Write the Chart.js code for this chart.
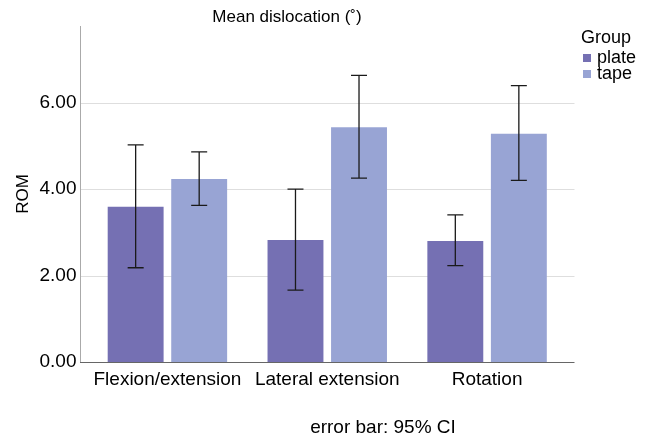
<!DOCTYPE html>
<html>
<head>
<meta charset="utf-8">
<script src="https://cdn.jsdelivr.net/npm/chart.js@4/dist/chart.umd.min.js"></script>
<style>
  html, body { margin: 0; padding: 0; background: #fff; }
  #wrap { width: 654px; height: 439px; }
</style>
</head>
<body>
<div id="wrap"><canvas id="chart"></canvas></div>
<script>
// data
const categories = ['Flexion/extension', 'Lateral extension', 'Rotation'];
const groups = ['plate', 'tape'];
const plateMean = [3.59, 2.82, 2.80];
const plateLow = [2.18, 1.66, 2.23];
const plateHigh = [5.02, 4.00, 3.40];
const tapeMean = [4.23, 5.43, 5.28];
const tapeLow = [3.62, 4.25, 4.20];
const tapeHigh = [4.86, 6.63, 6.39];
const yTicks = [0, 2, 4, 6];

const colors = ['#7570b3', '#98a4d4'];
const font = 'Liberation Sans, Arial, sans-serif';

// axis frame + gridlines, a bit wider than the category area
const frame = {
  id: 'frame',
  beforeDatasetsDraw(chart) {
    const ctx = chart.ctx;
    const a = chart.chartArea;
    const y = chart.scales.y;
    const x0 = a.left - 7.5, x1 = a.right + 7.5;
    ctx.save();
    ctx.lineWidth = 1;
    ctx.strokeStyle = '#dedede';
    yTicks.forEach(v => {
      if (v === 0) return;
      const py = Math.round(y.getPixelForValue(v)) + 0.5;
      ctx.beginPath(); ctx.moveTo(x0, py); ctx.lineTo(x1, py); ctx.stroke();
    });
    ctx.strokeStyle = '#aaa';
    ctx.beginPath(); ctx.moveTo(x0 + 0.5, a.top); ctx.lineTo(x0 + 0.5, a.bottom); ctx.stroke();
    ctx.strokeStyle = '#666';
    const by = Math.round(a.bottom) + 0.5;
    ctx.beginPath(); ctx.moveTo(x0, by); ctx.lineTo(x1, by); ctx.stroke();
    ctx.restore();
  }
};

// error bars (95% CI)
const errorBars = {
  id: 'errorBars',
  afterDatasetsDraw(chart) {
    const ctx = chart.ctx;
    const y = chart.scales.y;
    ctx.save();
    ctx.strokeStyle = '#1a1a1a';
    ctx.lineWidth = 1.3;
    chart.data.datasets.forEach((ds, i) => {
      const meta = chart.getDatasetMeta(i);
      meta.data.forEach((bar, j) => {
        const top = y.getPixelForValue(ds.high[j]);
        const bot = y.getPixelForValue(ds.low[j]);
        ctx.beginPath();
        ctx.moveTo(bar.x, top); ctx.lineTo(bar.x, bot);
        ctx.moveTo(bar.x - 8, top); ctx.lineTo(bar.x + 8, top);
        ctx.moveTo(bar.x - 8, bot); ctx.lineTo(bar.x + 8, bot);
        ctx.stroke();
      });
    });
    ctx.restore();
  }
};

// title, legend, footnote
const texts = {
  id: 'texts',
  afterDraw(chart) {
    const ctx = chart.ctx;
    ctx.save();
    ctx.fillStyle = '#000';
    ctx.textBaseline = 'middle';
    ctx.font = '17px ' + font;
    ctx.textAlign = 'center';
    ctx.fillText('Mean dislocation (\u02da)', 287, 17);
    ctx.font = '19px ' + font;
    ctx.fillText('error bar: 95% CI', 383, 428);

    ctx.textAlign = 'left';
    ctx.font = '18px ' + font;
    ctx.fillText('Group', 581, 38);
    groups.forEach((g, i) => {
      const cy = 58 + i * 16;
      ctx.fillStyle = colors[i];
      ctx.fillRect(583, cy - 4, 8, 8);
      ctx.fillStyle = '#000';
      ctx.fillText(g, 597, cy);
    });
    ctx.restore();
  }
};

new Chart(document.getElementById('chart'), {
  type: 'bar',
  data: {
    labels: categories,
    datasets: [
      { label: groups[0], data: plateMean, low: plateLow, high: plateHigh, backgroundColor: colors[0] },
      { label: groups[1], data: tapeMean, low: tapeLow, high: tapeHigh, backgroundColor: colors[1] }
    ]
  },
  options: {
    responsive: true,
    maintainAspectRatio: false,
    animation: false,
    layout: { padding: { left: 8, right: 87, top: 26, bottom: 0 } },
    datasets: { bar: { categoryPercentage: 0.795, barPercentage: 0.88 } },
    plugins: {
      legend: { display: false },
      tooltip: { enabled: false }
    },
    scales: {
      x: {
        grid: { display: false, drawTicks: false },
        border: { display: false },
        ticks: { color: '#000', padding: 6, font: { family: font, size: 19 }, maxRotation: 0, autoSkip: false },
        afterFit(scale) { scale.height = 77; }
      },
      y: {
        min: 0,
        max: 7.77,
        afterBuildTicks(scale) { scale.ticks = yTicks.map(v => ({ value: v })); },
        grid: { display: false, drawTicks: false },
        border: { display: false },
        ticks: { color: '#000', padding: 11, font: { family: font, size: 19 }, callback: v => Number(v).toFixed(2) },
        title: { display: true, text: 'ROM', color: '#000', font: { family: font, size: 17 }, padding: { top: 5, bottom: 0 } },
        afterFit(scale) { scale.width = 79.5; }
      }
    }
  },
  plugins: [frame, errorBars, texts]
});
</script>
</body>
</html>
